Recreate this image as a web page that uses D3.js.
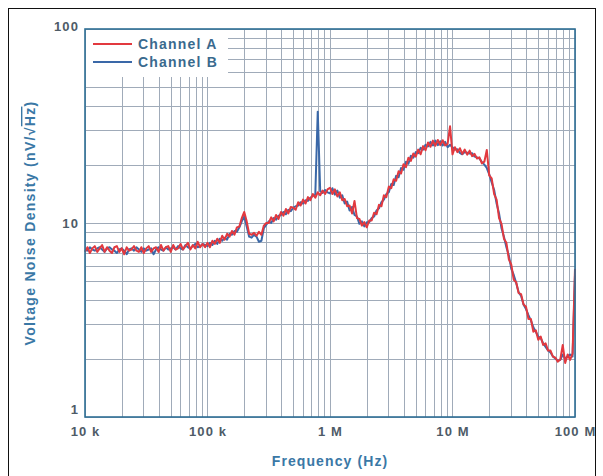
<!DOCTYPE html>
<html>
<head>
<meta charset="utf-8">
<script src="https://cdn.jsdelivr.net/npm/d3@7/dist/d3.min.js"></script>
<style>
  html, body { margin: 0; padding: 0; background: #ffffff; }
  svg { display: block; }
  text { font-family: "Liberation Sans", Arial, Helvetica, sans-serif; font-weight: bold; }
</style>
</head>
<body>
<svg id="chart" width="603" height="476"></svg>
<script>
// Sweep frequencies (Hz), 50 points per decade, 10 kHz to 100 MHz
const frequencies = [
  1.000e4,1.047e4,1.096e4,1.148e4,1.202e4,1.259e4,1.318e4,1.380e4,1.445e4,1.514e4,1.585e4,1.660e4,1.738e4,1.820e4,1.905e4,1.995e4,2.089e4,2.188e4,2.291e4,2.399e4,2.512e4,2.630e4,2.754e4,2.884e4,3.020e4,3.162e4,3.311e4,3.467e4,3.631e4,3.802e4,3.981e4,4.169e4,4.365e4,4.571e4,4.786e4,5.012e4,5.248e4,5.495e4,5.754e4,6.026e4,6.310e4,6.607e4,6.918e4,7.244e4,7.586e4,7.943e4,8.318e4,8.710e4,9.120e4,9.550e4,
  1.000e5,1.047e5,1.096e5,1.148e5,1.202e5,1.259e5,1.318e5,1.380e5,1.445e5,1.514e5,1.585e5,1.660e5,1.738e5,1.820e5,1.905e5,1.995e5,2.089e5,2.188e5,2.291e5,2.399e5,2.512e5,2.630e5,2.754e5,2.884e5,3.020e5,3.162e5,3.311e5,3.467e5,3.631e5,3.802e5,3.981e5,4.169e5,4.365e5,4.571e5,4.786e5,5.012e5,5.248e5,5.495e5,5.754e5,6.026e5,6.310e5,6.607e5,6.918e5,7.244e5,7.586e5,7.943e5,8.318e5,8.710e5,9.120e5,9.550e5,
  1.000e6,1.047e6,1.096e6,1.148e6,1.202e6,1.259e6,1.318e6,1.380e6,1.445e6,1.514e6,1.585e6,1.660e6,1.738e6,1.820e6,1.905e6,1.995e6,2.089e6,2.188e6,2.291e6,2.399e6,2.512e6,2.630e6,2.754e6,2.884e6,3.020e6,3.162e6,3.311e6,3.467e6,3.631e6,3.802e6,3.981e6,4.169e6,4.365e6,4.571e6,4.786e6,5.012e6,5.248e6,5.495e6,5.754e6,6.026e6,6.310e6,6.607e6,6.918e6,7.244e6,7.586e6,7.943e6,8.318e6,8.710e6,9.120e6,9.550e6,
  1.000e7,1.047e7,1.096e7,1.148e7,1.202e7,1.259e7,1.318e7,1.380e7,1.445e7,1.514e7,1.585e7,1.660e7,1.738e7,1.820e7,1.905e7,1.995e7,2.089e7,2.188e7,2.291e7,2.399e7,2.512e7,2.630e7,2.754e7,2.884e7,3.020e7,3.162e7,3.311e7,3.467e7,3.631e7,3.802e7,3.981e7,4.169e7,4.365e7,4.571e7,4.786e7,5.012e7,5.248e7,5.495e7,5.754e7,6.026e7,6.310e7,6.607e7,6.918e7,7.244e7,7.586e7,7.943e7,8.318e7,8.710e7,9.120e7,9.550e7,
  1.000e8
];

// Channel A noise density (nV/√Hz)
const channelA = [
  7.1,7.5,7.0,7.4,7.6,7.1,7.4,7.7,7.1,7.5, 7.2,7.0,7.5,7.6,7.1,7.4,6.9,7.5,7.2,7.3,
  7.6,7.2,7.1,7.5,7.0,7.4,7.6,7.1,7.4,7.5, 7.1,7.7,7.2,7.5,7.6,7.1,7.7,7.3,7.4,7.8,
  7.3,7.6,7.9,7.3,7.7,7.4,8.0,7.5,7.8,7.5,
  7.9,7.5,8.1,7.8,8.3,7.9,8.6,8.2,8.8,8.5, 9.1,8.7,9.5,9.6,10.6,11.4,10.2,8.8,8.7,8.9,
  8.6,9.0,8.7,9.7,10.0,10.0,10.7,10.2,11.0,10.5, 11.4,10.9,11.8,11.2,12.1,12.0,11.7,12.8,12.3,13.2,
  12.6,13.6,13.1,14.1,13.5,14.4,13.9,14.7,14.1,14.9,
  15.2,14.1,14.9,13.7,14.4,13.1,13.3,12.2,12.3,11.2, 13.0,10.6,10.5,9.7,10.1,9.5,10.3,10.3,11.3,11.1,
  12.4,12.2,13.9,13.6,15.4,15.1,16.8,16.5,18.5,18.0, 20.1,19.4,21.7,20.9,22.8,22.0,23.9,22.6,24.9,23.7,
  26.0,24.7,26.6,25.0,26.8,25.2,26.7,25.1,25.6,31.5,
  22.6,24.6,23.2,24.3,22.7,23.9,22.5,23.6,22.1,22.7, 21.5,21.8,20.3,20.7,23.8,17.6,17.0,14.1,13.2,10.6,
  9.9,8.3,7.9,6.5,6.1,5.1,4.95,4.35,4.3,3.8, 3.7,3.2,3.2,2.75,2.8,2.5,2.6,2.35,2.4,2.2,
  2.2,2.05,2.02,1.93,1.98,2.35,1.9,2.1,1.97,2.12,
  5.8
];

// Channel B noise density (nV/√Hz)
const channelB = [
  7.3,7.2,7.5,7.3,7.2,7.4,7.5,7.3,7.1,7.4, 7.5,7.3,7.2,7.0,7.3,7.4,7.2,6.9,7.3,7.4,
  7.2,7.5,7.3,7.1,7.4,7.2,7.3,7.4,6.9,7.3, 7.5,7.3,7.2,7.5,7.3,7.4,7.5,7.3,7.6,7.4,
  7.3,7.7,7.5,7.4,7.6,7.8,7.5,7.6,7.8,7.7,
  7.6,7.9,7.7,8.1,7.8,8.3,8.1,8.4,8.2,8.8, 8.7,9.1,9.0,9.5,10.2,10.8,9.6,8.5,8.4,8.7,
  8.5,8.0,8.1,9.4,9.8,10.2,10.0,10.6,10.4,10.9, 11.0,11.4,11.1,11.7,11.5,12.0,12.2,12.3,12.8,12.6,
  13.1,13.0,13.5,13.8,14.0,37.5,14.6,14.3,14.8,14.4,
  14.2,15.1,14.0,14.7,13.5,13.9,12.6,12.9,11.6,12.1, 11.0,10.8,9.9,10.2,9.6,10.1,10.1,10.6,10.8,11.6,
  11.9,12.8,13.2,14.1,14.4,15.9,15.7,17.5,17.2,19.2, 18.8,20.7,20.2,22.2,21.7,23.2,22.9,24.4,23.9,25.3,
  24.8,26.2,25.1,26.6,25.2,26.4,25.1,26.2,24.6,25.3,
  24.6,23.9,24.0,23.0,22.6,23.2,23.0,22.8,22.9,22.0, 21.8,21.5,20.6,20.0,19.2,17.8,16.2,14.8,12.6,11.2,
  9.4,8.5,7.5,6.8,5.8,5.4,4.9,4.4,4.2,3.8, 3.6,3.35,3.15,2.9,2.75,2.6,2.55,2.4,2.3,2.2,
  2.15,2.05,2.0,1.95,1.97,2.1,2.0,2.05,2.1,2.05,
  5.4
];

const seriesNames = ["Channel A", "Channel B"];
const seriesColors = ["#e2393f", "#3a68a8"];

const xTickValues = [1e4, 1e5, 1e6, 1e7, 1e8];
const xTickLabels = ["10 k", "100 k", "1 M", "10 M", "100 M"];
const yTickValues = [1, 10, 100];
const yTickLabels = ["1", "10", "100"];

const xTitle = "Frequency (Hz)";

const svg = d3.select("#chart");

// outer frame
svg.append("rect")
  .attr("x", 8.5).attr("y", 8.5)
  .attr("width", 587).attr("height", 480)
  .attr("fill", "none").attr("stroke", "#111").attr("stroke-width", 1);

const plot = { left: 85, right: 575, top: 29, bottom: 417 };

const x = d3.scaleLog().domain([1e4, 1e8]).range([plot.left, plot.right]);
const y = d3.scaleLog().domain([1, 100]).range([plot.bottom, plot.top]);

// grid
const grid = svg.append("g").attr("class", "grid");
grid.selectAll("line.v").data(x.ticks()).join("line")
  .attr("class", "v")
  .attr("x1", d => Math.round(x(d)) + 0.5).attr("x2", d => Math.round(x(d)) + 0.5)
  .attr("y1", plot.top).attr("y2", plot.bottom)
  .attr("stroke", "#a0abb9").attr("stroke-width", 1);
grid.selectAll("line.h").data(y.ticks()).join("line")
  .attr("class", "h")
  .attr("x1", plot.left).attr("x2", plot.right)
  .attr("y1", d => Math.round(y(d)) + 0.5).attr("y2", d => Math.round(y(d)) + 0.5)
  .attr("stroke", "#a0abb9").attr("stroke-width", 1);

// legend panel blanks the grid behind it
svg.append("rect")
  .attr("x", plot.left + 1).attr("y", plot.top + 1)
  .attr("width", 142).attr("height", 47)
  .attr("fill", "#ffffff");

// traces (Channel B underneath, Channel A on top)
const line = d3.line()
  .x(d => x(d[0]))
  .y(d => y(d[1]));

const traces = [
  { name: seriesNames[1], color: seriesColors[1], values: channelB },
  { name: seriesNames[0], color: seriesColors[0], values: channelA }
];
svg.append("g").selectAll("path").data(traces).join("path")
  .attr("d", t => line(frequencies.map((f, i) => [f, t.values[i]])))
  .attr("fill", "none")
  .attr("stroke", t => t.color)
  .attr("stroke-width", 2)
  .attr("stroke-linejoin", "round");

// plot border
svg.append("rect")
  .attr("x", plot.left).attr("y", plot.top)
  .attr("width", plot.right - plot.left).attr("height", plot.bottom - plot.top)
  .attr("fill", "none").attr("stroke", "#2f6f95").attr("stroke-width", 1.6);

// axes
const tickStyle = sel => sel
  .attr("fill", "#4e5b67").style("font-size", "13px").style("letter-spacing", "1.1px")
  .style("font-family", "'Liberation Sans', Arial, sans-serif").style("font-weight", "bold");

const xAxis = d3.axisBottom(x)
  .tickValues(xTickValues)
  .tickFormat((d, i) => xTickLabels[i])
  .tickSize(0).tickPadding(10);
const gx = svg.append("g").attr("transform", `translate(0,${plot.bottom})`).call(xAxis);
gx.select(".domain").remove();
gx.selectAll("text").call(tickStyle);

const yAxis = d3.axisLeft(y)
  .tickValues(yTickValues)
  .tickFormat((d, i) => yTickLabels[i])
  .tickSize(0).tickPadding(6);
const gy = svg.append("g").attr("transform", `translate(${plot.left},0)`).call(yAxis);
gy.select(".domain").remove();
gy.selectAll("text").call(tickStyle);
gy.selectAll(".tick").filter(d => d === 1).select("text").attr("dy", "-0.25em");
gy.selectAll(".tick").filter(d => d === 100).select("text").attr("dy", "0.15em");

// axis titles
svg.append("text")
  .attr("x", (plot.left + plot.right) / 2).attr("y", 466)
  .attr("text-anchor", "middle")
  .attr("fill", "#3a78a6").style("font-size", "14px").style("letter-spacing", "1.1px")
  .text(xTitle);

const yt = svg.append("text")
  .attr("transform", `translate(35,${(plot.top + plot.bottom) / 2}) rotate(-90)`)
  .attr("text-anchor", "middle")
  .attr("fill", "#3a78a6").style("font-size", "14px").style("letter-spacing", "1.3px");
yt.append("tspan").text("Voltage Noise Density (nV/√");
yt.append("tspan").text("Hz").style("text-decoration", "overline");
yt.append("tspan").text(")");

// legend
const legend = svg.append("g").attr("transform", `translate(${plot.left + 8},${plot.top + 15})`);
seriesNames.forEach((name, i) => {
  const g = legend.append("g").attr("transform", `translate(0,${i * 18})`);
  g.append("line").attr("x1", 0).attr("x2", 39).attr("y1", 0).attr("y2", 0)
    .attr("stroke", seriesColors[i]).attr("stroke-width", 2);
  g.append("text").attr("x", 45).attr("y", 0).attr("dy", "0.36em")
    .attr("fill", "#3a6a8e").style("font-size", "14px").style("letter-spacing", "1.2px")
    .text(name);
});
</script>
</body>
</html>
